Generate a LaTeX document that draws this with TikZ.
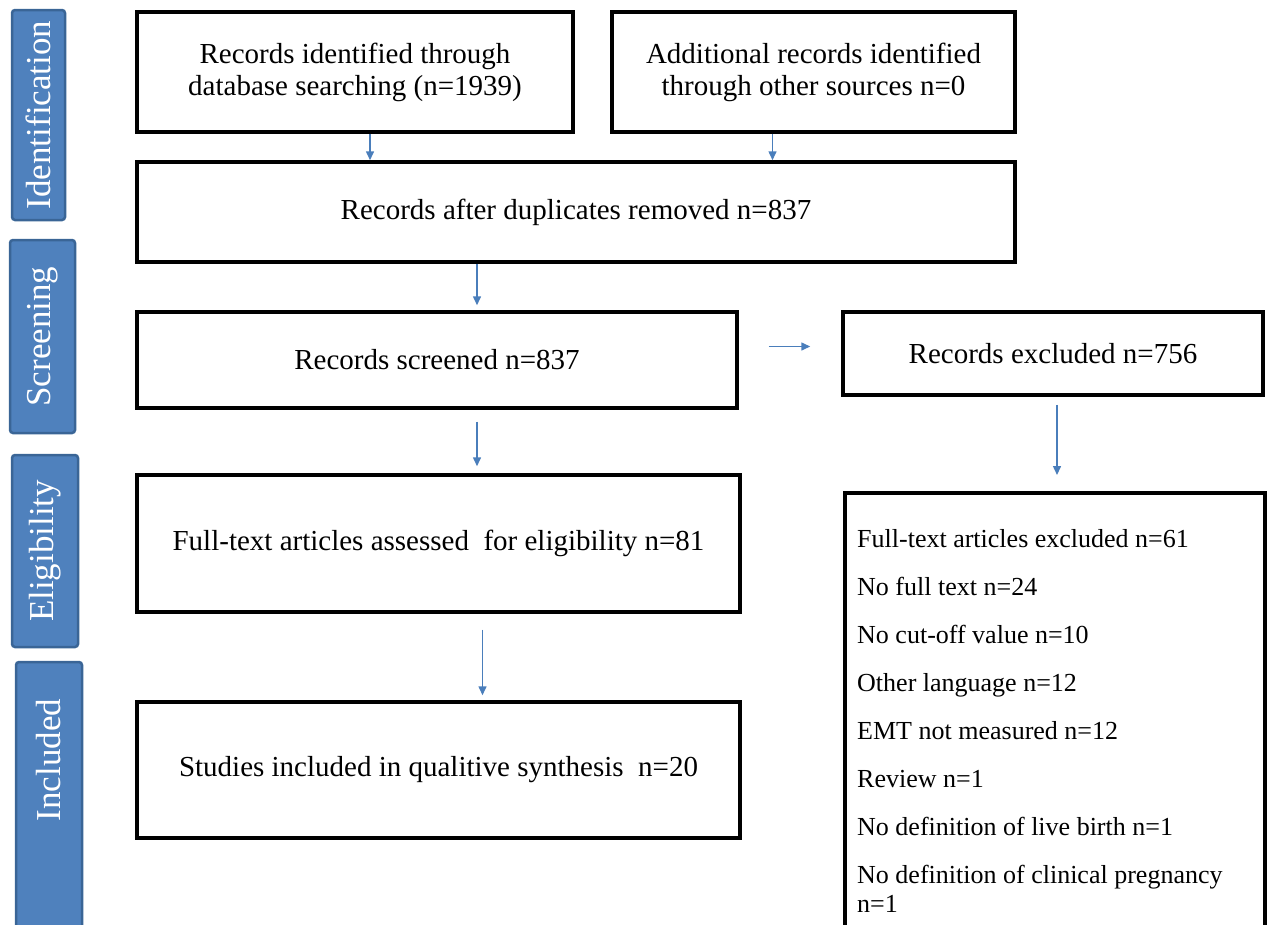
\documentclass[tikz,border=0pt]{standalone}
\usepackage{fontspec}
\setmainfont{Liberation Serif}
\usetikzlibrary{arrows.meta}

\definecolor{phasefill}{HTML}{4F81BD}
\definecolor{phaseline}{HTML}{3A6596}
\definecolor{flowblue}{HTML}{4A7EBB}

\begin{document}
\begin{tikzpicture}[x=1pt, y=-1pt]

\useasboundingbox (0,0) rectangle (1271,924);

% phase labels on the left
\tikzset{phase/.style={draw=phaseline, fill=phasefill, line width=2.5pt, rounded corners=3pt, rotate=90, text=white, inner sep=0pt, font=\fontsize{35}{40}\selectfont}}
\node[phase, minimum width=210pt, minimum height=53pt] (ident) at (38.5,115) {Identification};
\node[phase, minimum width=193pt, minimum height=65pt] (screen) at (42.5,336.5) {Screening};
\node[phase, minimum width=192pt, minimum height=66pt] (elig) at (45,551) {Eligibility};
\node[phase, minimum width=280pt, minimum height=66pt] (incl) at (49,802) {};
\node[phase, draw=none, fill=none] (incltxt) at (49,760) {Included};

% boxes
\tikzset{box/.style={draw, line width=3.5pt, align=center, inner sep=0pt, font=\fontsize{29}{32}\selectfont}}
\node[box, minimum width=436pt, minimum height=120pt] (b1) at (355,72) {Records identified through\\database searching (n=1939)};
\node[box, minimum width=403pt, minimum height=120pt] (b2) at (813.5,72) {Additional records identified\\through other sources n=0};
\node[box, minimum width=878pt, minimum height=100pt] (b3) at (576,212) {Records after duplicates removed n=837};
\node[box, minimum width=600pt, minimum height=96pt] (b4) at (437,360) {Records screened n=837};
\node[box, minimum width=420pt, minimum height=83pt] (b5) at (1053,353.5) {Records excluded n=756};
\node[box, minimum width=603pt, minimum height=137pt] (b6) at (438.5,543.5) {Full-text articles assessed \ for eligibility n=81};
\node[box, minimum width=603pt, minimum height=136pt] (b7) at (438.5,770) {Studies included in qualitive synthesis \ n=20};
\node[box, minimum width=420pt, minimum height=460pt, anchor=north west] (b8) at (843,491) {};
\node[anchor=north west, align=left, inner sep=0pt, font=\fontsize{26}{33}\selectfont] (b8txt) at ([xshift=14pt,yshift=-38pt]b8.north west)
  {Full-text articles excluded n=61\\[15pt]
   No full text n=24\\[15pt]
   No cut-off value n=10\\[15pt]
   Other language n=12\\[15pt]
   EMT not measured n=12\\[15pt]
   Review n=1\\[15pt]
   No definition of live birth n=1\\[15pt]
   No definition of clinical pregnancy\\[-4pt]
   n=1};

% arrows
\tikzset{flow/.style={-{Triangle[length=9pt,width=8pt]}, draw=flowblue, fill=flowblue, line width=1.5pt}}
\coordinate (p1) at ([xshift=15pt]b1.south);
\coordinate (p2) at ([xshift=-41pt]b2.south);
\coordinate (p3) at ([xshift=-99pt]b3.south);
\coordinate (p4) at ([xshift=40pt,yshift=-12pt]b4.south);
\coordinate (p5) at ([xshift=4pt,yshift=-8pt]b5.south);
\coordinate (p6) at ([xshift=44pt,yshift=-16pt]b6.south);
\coordinate (q5) at ([xshift=-31pt,yshift=7pt]b5.west);
\coordinate (q4) at (b4.east |- q5);
\path (p1) edge [flow] (p1 |- b3.north);
\path (p2) edge [flow] (p2 |- b3.north);
\path (p3) edge [flow, shorten >=5pt] (p3 |- b4.north);
\path ([xshift=30pt]q4) edge [flow] (q5);
\path (p4) edge [flow, shorten >=7pt] (p4 |- b6.north);
\path (p5) edge [flow, shorten >=16pt] (p5 |- b8.north);
\path (p6) edge [flow, shorten >=5pt] (p6 |- b7.north);
\end{tikzpicture}
\end{document}
